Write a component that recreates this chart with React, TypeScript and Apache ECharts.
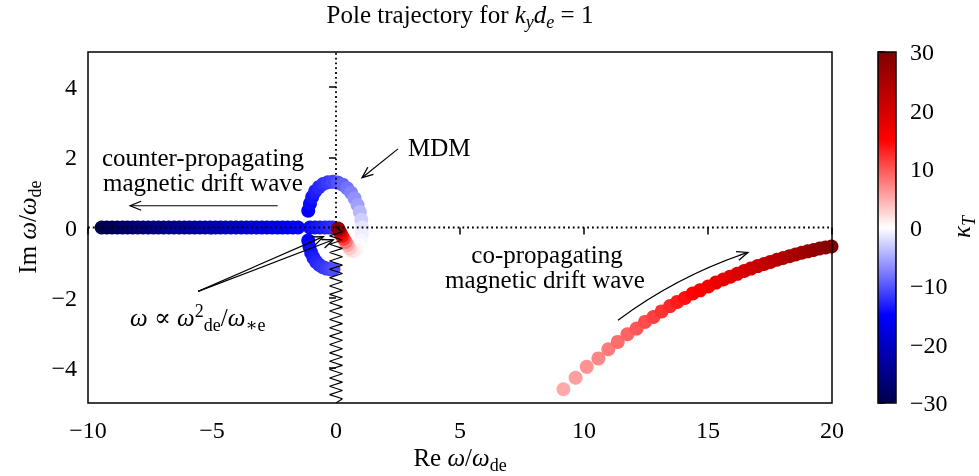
import React, { useEffect, useRef } from 'react';
import * as echarts from 'echarts';

const FONT = '"Liberation Serif", "DejaVu Serif", serif';

// counter-propagating magnetic drift wave (Im = 0)
const counterRe = [-9.45, -9.24, -9.03, -8.82, -8.61, -8.41, -8.2, -7.99, -7.78, -7.57, -7.36, -7.16, -6.95, -6.74, -6.53, -6.32, -6.11, -5.91, -5.7, -5.49, -5.28, -5.07, -4.86, -4.66, -4.45, -4.24, -4.03, -3.82, -3.61, -3.41, -3.2, -2.99, -2.78, -2.57, -2.36, -2.16, -1.95, -1.74, -1.53];
const counterKappa = [-30.0, -29.6, -29.2, -28.8, -28.4, -28.0, -27.6, -27.2, -26.8, -26.4, -26.0, -25.6, -25.2, -24.8, -24.4, -24.0, -23.6, -23.2, -22.8, -22.4, -22.0, -21.6, -21.2, -20.8, -20.4, -20.0, -19.6, -19.2, -18.8, -18.4, -18.0, -17.6, -17.2, -16.8, -16.4, -16.0, -15.6, -15.2, -14.8];

// blue roots close to the origin on the real axis
const nearRe = [-1.05, -0.85, -0.65, -0.45, -0.28, -0.14];
const nearKappa = [-14.4, -14.0, -13.6, -13.2, -12.8, -12.4];

// lower-left arc (omega ~ omega_de^2 / omega_*e)
const lowerRe = [-1.12, -1.07, -1.0, -0.91, -0.8, -0.67, -0.53, -0.38, -0.23, -0.1];
const lowerIm = [-0.37, -0.55, -0.72, -0.86, -0.98, -1.07, -1.13, -1.17, -1.19, -1.19];
const lowerKappa = [-15.0, -14.5, -14.0, -13.5, -13.0, -12.5, -12.0, -11.5, -11.0, -10.5];

// MDM loop
const mdmRe = [-1.12, -1.05, -0.96, -0.84, -0.69, -0.52, -0.33, -0.13, 0.07, 0.27, 0.45, 0.61, 0.75, 0.87, 0.96, 1.02, 1.05, 1.04, 1.0, 0.93, 0.84, 0.74, 0.63, 0.55, 0.47, 0.39, 0.31, 0.24, 0.18, 0.13, 0.1, 0.08];
const mdmIm = [0.48, 0.68, 0.87, 1.03, 1.15, 1.24, 1.29, 1.3, 1.28, 1.22, 1.12, 0.99, 0.83, 0.64, 0.44, 0.22, 0.0, -0.2, -0.38, -0.52, -0.62, -0.67, -0.67, -0.6, -0.5, -0.41, -0.32, -0.24, -0.16, -0.1, -0.05, -0.03];
const mdmKappa = [-15.0, -14.4, -13.8, -13.3, -12.7, -12.2, -11.6, -11.0, -10.1, -9.2, -8.3, -7.4, -6.5, -5.6, -4.2, -2.8, -1.5, -1.0, -0.5, 0.0, 0.5, 1.0, 1.5, 3, 5, 8, 11, 14, 17, 21, 25, 29];

// co-propagating magnetic drift wave
const coRe = [9.17, 9.66, 10.11, 10.58, 10.98, 11.36, 11.75, 12.12, 12.46, 12.8, 13.13, 13.47, 13.76, 14.07, 14.38, 14.68, 15.01, 15.32, 15.62, 15.9, 16.18, 16.46, 16.73, 17.0, 17.26, 17.52, 17.78, 18.03, 18.28, 18.53, 18.78, 19.02, 19.26, 19.5, 19.74, 19.98];
const coIm = [-4.61, -4.28, -3.97, -3.73, -3.47, -3.26, -3.04, -2.88, -2.69, -2.55, -2.39, -2.24, -2.12, -2.01, -1.88, -1.79, -1.68, -1.57, -1.48, -1.4, -1.32, -1.24, -1.17, -1.1, -1.04, -0.98, -0.92, -0.87, -0.82, -0.77, -0.72, -0.68, -0.64, -0.6, -0.57, -0.54];
const coKappa = [5.0, 5.7, 6.4, 7.1, 7.8, 8.5, 9.2, 9.9, 10.6, 11.3, 12.0, 12.7, 13.4, 14.1, 14.8, 15.5, 16.2, 16.9, 17.6, 18.3, 19.0, 19.7, 20.4, 21.1, 21.8, 22.5, 23.2, 23.9, 24.6, 25.3, 26.0, 26.7, 27.4, 28.1, 28.8, 29.5];

const xTicks = [-10, -5, 0, 5, 10, 15, 20];
const yTicks = [-4, -2, 0, 2, 4];
const cbTicks = [-30, -20, -10, 0, 10, 20, 30];

const seismic = ['#00004d', '#0000ff', '#ffffff', '#ff0000', '#800000'];

// annotation arrows (data coordinates): from -> to
const arrowCounter = { from: [-2.35, 0.62], to: [-8.3, 0.62] };
const arrowMDM = { from: [2.5, 2.24], to: [1.05, 1.42] };
const arrowLow1 = { from: [-5.56, -1.82], to: [-0.51, -0.26] };
const arrowLow2 = { from: [-5.56, -1.82], to: [-0.11, -0.35] };
const arrowCo = { from: [11.37, -2.64], to: [16.61, -0.71] };

const fmt = (v: number) => (v < 0 ? '\u2212' + Math.abs(v) : String(v));

const pts = (xs: number[], ys: number[] | null, ks: number[]) =>
  xs.map((x, i) => [x, ys ? ys[i] : 0, ks[i]]);

const FS = 25;
const richStyles = {
  r: { fontFamily: FONT, fontSize: FS, fill: '#000', lineHeight: 34, verticalAlign: 'middle' },
  i: { fontFamily: FONT, fontSize: FS, fill: '#000', lineHeight: 34, verticalAlign: 'middle', fontStyle: 'italic' },
  s: { fontFamily: FONT, fontSize: 18, fill: '#000', lineHeight: 34, verticalAlign: 'bottom' },
  si: { fontFamily: FONT, fontSize: 18, fill: '#000', lineHeight: 34, verticalAlign: 'bottom', fontStyle: 'italic' },
  sup: { fontFamily: FONT, fontSize: 18, fill: '#000', lineHeight: 34, verticalAlign: 'top', padding: [2, 0, 0, 0] },
};

function txt(x: number, y: number, text: string, align = 'center', rotation = 0) {
  return {
    type: 'text',
    x,
    y,
    rotation,
    z: 100,
    silent: true,
    style: {
      text,
      rich: richStyles,
      fontFamily: FONT,
      fontSize: FS,
      fill: '#000',
      align,
      verticalAlign: 'middle',
    },
  };
}

const scatterStyle = { opacity: 1, borderWidth: 0 };

export default function App() {
  const ref = useRef<HTMLDivElement>(null);
  useEffect(() => {
    const chart = echarts.init(ref.current!, null, { renderer: 'svg' });

    const zig: number[][] = [];
    const nSeg = 42;
    for (let i = 0; i <= nSeg; i++) {
      const xo = i === 0 || i === nSeg ? 0 : i % 2 === 1 ? 0.26 : -0.26;
      zig.push([xo, -(5 * i) / nSeg]);
    }

    const axisLabelStyle = { color: '#000', fontFamily: FONT, fontSize: 24 };

    chart.setOption({
      animation: false,
      grid: [
        { left: 88, top: 52, width: 744, height: 351, show: true, borderColor: '#000', borderWidth: 1.5, backgroundColor: 'transparent', z: 10 },
        { left: 878, top: 52, width: 18, height: 351, show: true, borderColor: '#000', borderWidth: 1.5, backgroundColor: 'transparent', z: 10 },
      ],
      xAxis: [
        {
          type: 'value', gridIndex: 0, min: -10, max: 20, interval: 5,
          axisLine: { show: false },
          axisTick: { show: true, length: 7, lineStyle: { color: '#000', width: 1.5 } },
          axisLabel: { ...axisLabelStyle, margin: 15, formatter: fmt, customValues: xTicks },
          splitLine: { show: false },
        },
        { type: 'value', gridIndex: 1, min: 0, max: 1, show: false },
      ],
      yAxis: [
        {
          type: 'value', gridIndex: 0, min: -5, max: 5,
          axisLine: { show: false },
          axisTick: { show: true, length: 7, lineStyle: { color: '#000', width: 1.5 }, customValues: yTicks },
          axisLabel: { ...axisLabelStyle, margin: 11, formatter: fmt, customValues: yTicks },
          splitLine: { show: false },
        },
        {
          type: 'value', gridIndex: 1, min: -30, max: 30, interval: 10, position: 'right',
          axisLine: { show: false },
          axisTick: { show: true, length: 7, lineStyle: { color: '#000', width: 1.5 } },
          axisLabel: { ...axisLabelStyle, margin: 14, formatter: fmt, customValues: cbTicks },
          splitLine: { show: false },
        },
      ],
      visualMap: {
        type: 'continuous', min: -30, max: 30, dimension: 2,
        seriesIndex: [0, 1, 2, 3, 4],
        inRange: { color: seismic },
        left: 878, top: 52, itemWidth: 18, itemHeight: 351, padding: 0,
        calculable: false, hoverLink: false, text: null,
      },
      series: [
        { type: 'scatter', data: pts(counterRe, null, counterKappa), symbolSize: 14, itemStyle: scatterStyle, z: 2 },
        { type: 'scatter', data: pts(nearRe, null, nearKappa), symbolSize: 14, itemStyle: scatterStyle, z: 2 },
        { type: 'scatter', data: pts(lowerRe, lowerIm, lowerKappa), symbolSize: 14, itemStyle: scatterStyle, z: 2 },
        { type: 'scatter', data: pts(mdmRe, mdmIm, mdmKappa), symbolSize: 14, itemStyle: scatterStyle, z: 2 },
        { type: 'scatter', data: pts(coRe, coIm, coKappa), symbolSize: 14, itemStyle: scatterStyle, z: 2 },
        { type: 'line', data: [[-10, 0], [20, 0]], showSymbol: false, symbol: 'none', silent: true, z: 5, lineStyle: { color: '#000', width: 1.8, type: [1.8, 3] } },
        { type: 'line', data: [[0, 0], [0, 5]], showSymbol: false, symbol: 'none', silent: true, z: 5, lineStyle: { color: '#000', width: 1.8, type: [1.8, 3] } },
        { type: 'line', data: zig, showSymbol: false, symbol: 'none', silent: true, z: 5, lineStyle: { color: '#000', width: 1.1 } },
      ],
    });

    const px = (p: number[]) => chart.convertToPixel({ xAxisIndex: 0, yAxisIndex: 0 }, p) as number[];
    const HEAD_L = 11;
    const HEAD_W = 4.5;
    const head = (tip: number[], dir: number[]) => {
      const len = Math.hypot(dir[0], dir[1]);
      const ux = dir[0] / len, uy = dir[1] / len;
      const bx = tip[0] - ux * HEAD_L, by = tip[1] - uy * HEAD_L;
      return {
        type: 'polyline', z: 100, silent: true,
        shape: { points: [[bx - uy * HEAD_W, by + ux * HEAD_W], tip, [bx + uy * HEAD_W, by - ux * HEAD_W]] },
        style: { stroke: '#000', lineWidth: 1.3, fill: 'none' },
      };
    };
    const straight = (a: { from: number[]; to: number[] }) => {
      const p0 = px(a.from), p1 = px(a.to);
      return [
        { type: 'line', z: 100, silent: true, shape: { x1: p0[0], y1: p0[1], x2: p1[0], y2: p1[1] }, style: { stroke: '#000', lineWidth: 1.2 } },
        head(p1, [p1[0] - p0[0], p1[1] - p0[1]]),
      ];
    };
    const curved = (a: { from: number[]; to: number[] }, c: number) => {
      const p0 = px(a.from), p1 = px(a.to);
      const mx = (p0[0] + p1[0]) / 2, my = (p0[1] + p1[1]) / 2;
      const cx = mx - (p0[1] - p1[1]) * c, cy = my - (p1[0] - p0[0]) * c;
      return [
        { type: 'bezierCurve', z: 100, silent: true, shape: { x1: p0[0], y1: p0[1], x2: p1[0], y2: p1[1], cpx1: cx, cpy1: cy }, style: { stroke: '#000', lineWidth: 1.2, fill: 'none' } },
        head(p1, [p1[0] - cx, p1[1] - cy]),
      ];
    };

    const graphics: any[] = [
      txt(460, 14, '{r|Pole trajectory for }{i|k}{si|y}{i|d}{si|e}{r| = 1}'),
      txt(460, 457, '{r|Re }{i|ω}{r|/}{i|ω}{s|de}'),
      txt(27, 227, '{r|Im }{i|ω}{r|/}{i|ω}{s|de}', 'center', Math.PI / 2),
      txt(961, 227, '{i|κ}{si|T}', 'center', Math.PI / 2),
      txt(203, 157, '{r|counter-propagating}'),
      txt(203, 182, '{r|magnetic drift wave}'),
      txt(408, 147, '{r|MDM}', 'left'),
      txt(547, 254, '{r|co-propagating}'),
      txt(545, 279, '{r|magnetic drift wave}'),
      txt(130, 317, '{i|ω}{r| ∝ }{i|ω}{sup|2}{s|de}{r|/}{i|ω}{s|∗e}', 'left'),
      ...straight(arrowCounter),
      ...straight(arrowMDM),
      ...straight(arrowLow1),
      ...straight(arrowLow2),
      ...curved(arrowCo, 0.08),
    ];
    chart.setOption({ graphic: graphics });

    return () => chart.dispose();
  }, []);
  return <div ref={ref} style={{ position: 'fixed', left: 0, top: 0, width: 979, height: 476 }} />;
}
